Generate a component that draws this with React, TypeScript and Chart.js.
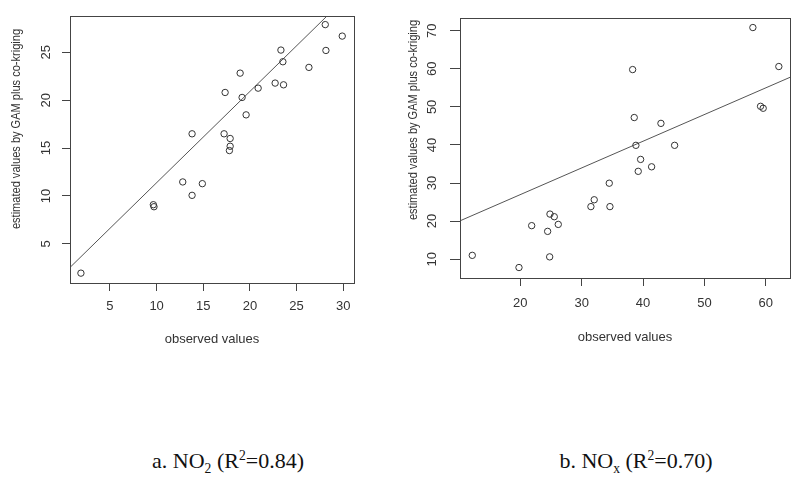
import React, { useEffect, useRef } from "react";
import { Chart, registerables } from "chart.js";

Chart.register(...registerables);

// ---- Panel a: NO2 ----
const no2Observed = [1.89, 9.65, 9.72, 12.8, 13.8, 13.8, 14.9, 17.23, 17.88, 17.88, 17.8, 17.34, 18.95, 19.16, 19.59, 20.88, 22.7, 23.6, 23.32, 23.53, 26.32, 28.07, 28.14, 29.89];
const no2Estimated = [1.93, 9.08, 8.87, 11.46, 10.06, 16.49, 11.28, 16.49, 16.0, 15.19, 14.74, 20.81, 22.83, 20.29, 18.47, 21.26, 21.79, 21.61, 25.24, 24.02, 23.43, 27.9, 25.2, 26.7];
const no2FitX = [0, 32];
const no2FitY = [1.84, 32.37];
const no2XTicks = [5, 10, 15, 20, 25, 30];
const no2YTicks = [5, 10, 15, 20, 25];
const no2XRange = [0.72, 31.15];
const no2YRange = [0.9, 28.8];

// ---- Panel b: NOx ----
const noxObserved = [12.18, 19.79, 21.86, 24.46, 24.84, 25.54, 26.19, 24.79, 31.51, 32.05, 34.5, 34.61, 38.31, 38.57, 38.84, 39.61, 39.22, 41.4, 42.92, 45.15, 57.9, 59.15, 59.58, 62.13];
const noxEstimated = [11.0, 7.8, 18.8, 17.3, 21.84, 21.15, 19.13, 10.6, 23.8, 25.6, 29.95, 23.8, 59.8, 47.2, 39.9, 36.2, 33.07, 34.26, 45.67, 39.9, 70.84, 50.15, 49.64, 60.6];
const noxFitX = [10, 65];
const noxFitY = [19.94, 58.5];
const noxXTicks = [20, 30, 40, 50, 60];
const noxYTicks = [10, 20, 30, 40, 50, 60, 70];
const noxXRange = [10.18, 63.95];
const noxYRange = [5.05, 73.4];

const xTitle = "observed values";
const yTitle = "estimated values by GAM plus co-kriging";

const AXIS_COLOR = "#444";
const TEXT_COLOR = "#333";
const FAMILY = "'Liberation Sans', Arial, sans-serif";
const FONT = { family: FAMILY, size: 13 };

const boxPlugin = {
  id: "rbox",
  afterDraw(chart: any) {
    const { ctx, chartArea } = chart;
    ctx.save();
    ctx.strokeStyle = AXIS_COLOR;
    ctx.lineWidth = 1;
    ctx.strokeRect(
      Math.round(chartArea.left) + 0.5,
      Math.round(chartArea.top) + 0.5,
      Math.round(chartArea.right - chartArea.left),
      Math.round(chartArea.bottom - chartArea.top)
    );
    ctx.restore();
  },
};

function makeYTitlePlugin(text: string, x: number, y: number) {
  return {
    id: "ytitle",
    afterDraw(chart: any) {
      const { ctx } = chart;
      ctx.save();
      ctx.translate(x, y);
      ctx.rotate(-Math.PI / 2);
      ctx.scale(0.85, 1);
      ctx.font = `13px ${FAMILY}`;
      ctx.fillStyle = TEXT_COLOR;
      ctx.textAlign = "center";
      ctx.textBaseline = "middle";
      ctx.fillText(text, 0, 0);
      ctx.restore();
    },
  };
}

interface PanelProps {
  left: number;
  width: number;
  height: number;
  obs: number[];
  est: number[];
  fitX: number[];
  fitY: number[];
  xTicks: number[];
  yTicks: number[];
  xRange: number[];
  yRange: number[];
  yAxisWidth: number;
  xAxisHeight: number;
  padTop: number;
  padRight: number;
  yTickLen: number;
  yTickPad: number;
  yTitleX: number;
  yTitleY: number;
  xTickLen: number;
  xTickPad: number;
  xTitlePad: number;
}

function Panel(p: PanelProps) {
  const ref = useRef<HTMLCanvasElement>(null);
  useEffect(() => {
    if (!ref.current) return;
    const pts = p.obs.map((x, i) => ({ x, y: p.est[i] }));
    const line = p.fitX.map((x, i) => ({ x, y: p.fitY[i] }));
    const chart = new Chart(ref.current, {
      type: "scatter",
      data: {
        datasets: [
          {
            data: pts,
            showLine: false,
            pointRadius: 3.2,
            pointBorderWidth: 1,
            pointBorderColor: "#333",
            pointBackgroundColor: "rgba(0,0,0,0)",
          },
          {
            data: line,
            showLine: true,
            pointRadius: 0,
            borderColor: "#555",
            borderWidth: 1,
          },
        ],
      },
      options: {
        animation: false,
        responsive: false,
        devicePixelRatio: 1,
        layout: { padding: { top: p.padTop, right: p.padRight, left: 0, bottom: 0 } },
        plugins: { legend: { display: false }, tooltip: { enabled: false } },
        scales: {
          x: {
            type: "linear",
            min: p.xRange[0],
            max: p.xRange[1],
            afterBuildTicks: (s: any) => {
              s.ticks = p.xTicks.map((v) => ({ value: v }));
            },
            afterFit: (s: any) => {
              s.height = p.xAxisHeight;
            },
            grid: {
              drawOnChartArea: false,
              drawTicks: true,
              tickLength: p.xTickLen,
              color: AXIS_COLOR,
              lineWidth: 1,
            },
            border: { display: false },
            ticks: { font: FONT, color: TEXT_COLOR, padding: p.xTickPad, maxRotation: 0, autoSkip: false },
            title: { display: true, text: xTitle, font: FONT, color: TEXT_COLOR, padding: { top: 0, bottom: p.xTitlePad } },
          },
          y: {
            type: "linear",
            min: p.yRange[0],
            max: p.yRange[1],
            afterBuildTicks: (s: any) => {
              s.ticks = p.yTicks.map((v) => ({ value: v }));
            },
            afterFit: (s: any) => {
              s.width = p.yAxisWidth;
            },
            grid: {
              drawOnChartArea: false,
              drawTicks: true,
              tickLength: p.yTickLen,
              color: AXIS_COLOR,
              lineWidth: 1,
            },
            border: { display: false },
            ticks: {
              font: FONT,
              color: TEXT_COLOR,
              padding: p.yTickPad,
              minRotation: 90,
              maxRotation: 90,
              crossAlign: "center",
              autoSkip: false,
            },
            title: { display: false },
          },
        },
      },
      plugins: [boxPlugin, makeYTitlePlugin(yTitle, p.yTitleX, p.yTitleY)],
    } as any);
    return () => chart.destroy();
  }, []);
  return (
    <canvas
      ref={ref}
      width={p.width}
      height={p.height}
      style={{ position: "absolute", left: p.left, top: 0, width: p.width, height: p.height }}
    />
  );
}

const captionStyle: React.CSSProperties = {
  position: "absolute",
  top: 446,
  fontFamily: "'Liberation Serif', 'Times New Roman', serif",
  fontSize: 22,
  color: "#111",
  lineHeight: "30px",
  whiteSpace: "nowrap",
  textAlign: "center",
};

const subSup: React.CSSProperties = { fontSize: "0.62em", lineHeight: 0 };

export default function App() {
  return (
    <div style={{ position: "fixed", left: 0, top: 0, width: 800, height: 480, background: "#fff", overflow: "hidden" }}>
      <Panel
        left={0}
        width={370}
        height={360}
        obs={no2Observed}
        est={no2Estimated}
        fitX={no2FitX}
        fitY={no2FitY}
        xTicks={no2XTicks}
        yTicks={no2YTicks}
        xRange={no2XRange}
        yRange={no2YRange}
        yAxisWidth={70}
        xAxisHeight={77}
        padTop={16}
        padRight={16}
        yTickLen={8}
        yTickPad={8}
        yTitleX={16}
        yTitleY={129}
        xTickLen={8}
        xTickPad={8}
        xTitlePad={13}
      />
      <Panel
        left={400}
        width={400}
        height={360}
        obs={noxObserved}
        est={noxEstimated}
        fitX={noxFitX}
        fitY={noxFitY}
        xTicks={noxXTicks}
        yTicks={noxYTicks}
        xRange={noxXRange}
        yRange={noxYRange}
        yAxisWidth={60}
        xAxisHeight={82}
        padTop={9}
        padRight={10}
        yTickLen={10}
        yTickPad={10}
        yTitleX={13}
        yTitleY={120}
        xTickLen={8}
        xTickPad={10}
        xTitlePad={15}
      />
      <div style={{ ...captionStyle, left: 128, width: 200 }}>
        a. NO<sub style={subSup}>2</sub> (R<sup style={subSup}>2</sup>=0.84)
      </div>
      <div style={{ ...captionStyle, left: 536, width: 200 }}>
        b. NO<sub style={subSup}>x</sub> (R<sup style={subSup}>2</sup>=0.70)
      </div>
    </div>
  );
}
